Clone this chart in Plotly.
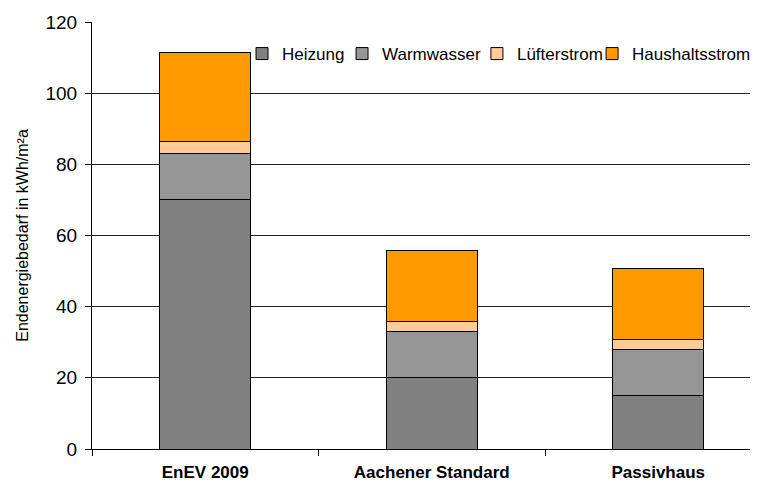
import plotly.graph_objects as go

FONT = "Liberation Sans, Arial, sans-serif"

categories = ["EnEV 2009", "Aachener Standard", "Passivhaus"]
heizung = [70, 20, 15]
warmwasser = [13, 13, 13]
luefterstrom = [3.5, 2.8, 2.7]
haushaltsstrom = [25, 20, 20]
y_ticks = [0, 20, 40, 60, 80, 100, 120]

series = [
    ("Heizung", heizung, "#808080", "legend", 0.228),
    ("Warmwasser", warmwasser, "#969696", "legend2", 0.38),
    ("Lüfterstrom", luefterstrom, "#FFCC99", "legend3", 0.585),
    ("Haushaltsstrom", haushaltsstrom, "#FF9900", "legend4", 0.76),
]

fig = go.Figure()
legends = {}
for name, values, color, legend_id, lx in series:
    fig.add_trace(
        go.Bar(
            x=categories,
            y=values,
            name=name,
            legend=legend_id,
            marker=dict(color=color, line=dict(color="black", width=1)),
            width=0.4,
        )
    )
    legends[legend_id] = dict(
        x=lx,
        y=0.925,
        xanchor="left",
        yanchor="middle",
        orientation="h",
        bgcolor="rgba(0,0,0,0)",
        font=dict(family=FONT, size=17, color="black"),
    )

# the page body keeps an 8px margin, so size the figure to the visible area
fig.update_layout(
    barmode="stack",
    width=742,
    height=474,
    margin=dict(l=84, r=0, t=14, b=33, autoexpand=False),
    plot_bgcolor="white",
    paper_bgcolor="white",
    font=dict(family=FONT, color="black"),
    showlegend=True,
    **legends,
)
fig.update_xaxes(
    range=[-0.5, 2.405],  # right end of the original chart is cut off
    automargin=False,
    showline=True,
    linecolor="black",
    linewidth=1,
    ticks="outside",
    tickson="boundaries",
    ticklen=6,
    tickcolor="black",
    showgrid=False,
    tickfont=dict(family=FONT, size=17, color="black", weight="bold"),
    ticklabelstandoff=8,
    fixedrange=True,
)
fig.update_yaxes(
    range=[0, 120],
    tickvals=y_ticks,
    automargin=False,
    showline=True,
    linecolor="black",
    linewidth=1,
    ticks="outside",
    ticklen=6,
    tickcolor="black",
    showgrid=True,
    gridcolor="#222222",
    gridwidth=1,
    zeroline=False,
    tickfont=dict(family=FONT, size=19, color="black"),
    ticklabelstandoff=4,
    title=dict(
        text="Endenergiebedarf in kWh/m²a",
        font=dict(family=FONT, size=16, color="black"),
        standoff=12,
    ),
    fixedrange=True,
)

fig.write_html("out.html")
